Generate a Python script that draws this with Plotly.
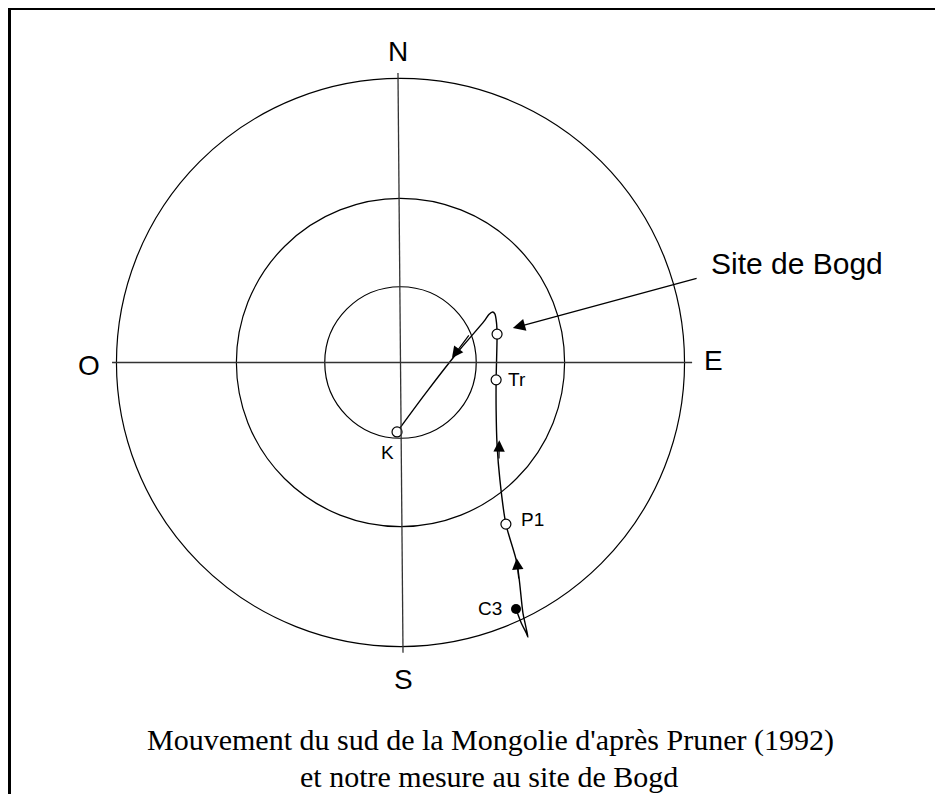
import plotly.graph_objects as go

# ---- data (diagram units: outer circle radius = 90) ----
circle_radii = [90, 52, 24]

cardinal_labels = ["N", "S", "E", "O"]
cardinal_x = [-0.8, 1.1, 99.3, -98.7]
cardinal_y = [98.5, -100.6, 0.6, -0.8]

# cross lines (slightly tilted N-S line as in the original)
ns_x = [-0.8, 0.8]
ns_y = [91.7, -92.0]
eo_x = [-91.4, 92.4]
eo_y = [0.0, 0.0]

# pole path (from C3, around the small loop, up to the site, then down to K)
path_x = [36.6, 38.3, 39.8, 40.4, 39.6, 38.8, 36.9, 33.4, 31.5, 30.6, 30.3, 30.3,
          30.6, 30.4, 29.9, 29.2, 28.0, 26.5, 17.9, 8.0, -1.1]
path_y = [-78.1, -82.6, -85.6, -87.0, -83.2, -79.4, -63.6, -51.2, -37.2, -26.1, -15.1, -5.5,
          9.0, 12.8, 15.4, 16.0, 15.2, 13.1, 3.0, -9.7, -22.0]

open_names = ["K", "Tr", "P1", "Bogd"]
open_x = [-1.1, 30.3, 33.4, 30.6]
open_y = [-22.0, -5.5, -51.2, 9.0]

filled_names = ["C3"]
filled_x = [36.6]
filled_y = [-78.1]

point_labels = ["K", "Tr", "P1", "C3"]
point_label_x = [-4.1, 36.8, 41.8, 28.5]
point_label_y = [-28.4, -5.5, -49.6, -77.8]

# direction arrows along the path: (tail, tip)
arrow_tail_x = [22.0, 31.2, 37.5]
arrow_tail_y = [9.1, -30.9, -68.9]
arrow_tip_x = [16.3, 31.3, 36.8]
arrow_tip_y = [1.4, -24.6, -62.0]

site_text = "Site de Bogd"
site_text_x = 97.8
site_text_y = 31.5
site_arrow_tail = (94.3, 26.8)
site_arrow_tip = (35.6, 10.9)

title_lines = ["Mouvement du sud de la Mongolie d'après Pruner (1992)",
               "et notre mesure au site de Bogd"]
title_x = [28.4, 28.1]
title_y = [-119.7, -131.2]

# ---- layout geometry (page is offset 8px by the browser body margin) ----
W, H = 935, 786
PX = 3.156             # pixels per unit
CX, CY = 392.5, 354.5  # centre in figure pixels

x_range = [-CX / PX, (W - CX) / PX]
y_range = [-(H - CY) / PX, CY / PX]

fig = go.Figure()

shapes = []
for r in circle_radii:
    shapes.append(dict(type="circle", xref="x", yref="y", x0=-r, x1=r, y0=-r, y1=r,
                       line=dict(color="black", width=1.2)))
shapes.append(dict(type="line", xref="x", yref="y", x0=ns_x[0], y0=ns_y[0], x1=ns_x[1], y1=ns_y[1],
                   line=dict(color="#333", width=1.3)))
shapes.append(dict(type="line", xref="x", yref="y", x0=eo_x[0], y0=eo_y[0], x1=eo_x[1], y1=eo_y[1],
                   line=dict(color="#333", width=1.3)))
# frame (top and left border)
shapes.append(dict(type="line", xref="paper", yref="paper", x0=0, x1=1.0, y0=1 - 0.5 / H, y1=1 - 0.5 / H,
                   line=dict(color="black", width=3)))
shapes.append(dict(type="line", xref="paper", yref="paper", x0=1.5 / W, x1=1.5 / W, y0=1, y1=0,
                   line=dict(color="black", width=3)))

fig.add_trace(go.Scatter(x=path_x, y=path_y, mode="lines",
                         line=dict(color="black", width=1.4, shape="spline", smoothing=0.8),
                         hoverinfo="skip", showlegend=False))
fig.add_trace(go.Scatter(x=open_x, y=open_y, mode="markers", text=open_names,
                         marker=dict(symbol="circle", size=10, color="white",
                                     line=dict(color="black", width=1.2)),
                         showlegend=False))
fig.add_trace(go.Scatter(x=filled_x, y=filled_y, mode="markers", text=filled_names,
                         marker=dict(symbol="circle", size=10, color="black"),
                         showlegend=False))

annotations = []
for lab, x, y in zip(cardinal_labels, cardinal_x, cardinal_y):
    annotations.append(dict(x=x, y=y, xref="x", yref="y", text=lab, showarrow=False,
                            font=dict(family="Liberation Sans, Arial", size=28, color="black")))
for lab, x, y in zip(point_labels, point_label_x, point_label_y):
    annotations.append(dict(x=x, y=y, xref="x", yref="y", text=lab, showarrow=False,
                            font=dict(family="Liberation Sans, Arial", size=19, color="black")))
for tx, ty, hx, hy in zip(arrow_tail_x, arrow_tail_y, arrow_tip_x, arrow_tip_y):
    annotations.append(dict(x=hx, y=hy, ax=tx, ay=ty, xref="x", yref="y", axref="x", ayref="y",
                            text="", showarrow=True, arrowhead=2, arrowsize=1.9, arrowwidth=1.2,
                            arrowcolor="black", standoff=0, startstandoff=0))
annotations.append(dict(x=site_arrow_tip[0], y=site_arrow_tip[1], ax=site_arrow_tail[0], ay=site_arrow_tail[1],
                        xref="x", yref="y", axref="x", ayref="y", text="", showarrow=True,
                        arrowhead=2, arrowsize=1.9, arrowwidth=1.3, arrowcolor="black",
                        standoff=0, startstandoff=0))
annotations.append(dict(x=site_text_x, y=site_text_y, xref="x", yref="y", text=site_text, showarrow=False,
                        xanchor="left", font=dict(family="Liberation Sans, Arial", size=30, color="black")))
for t, x, y in zip(title_lines, title_x, title_y):
    annotations.append(dict(x=x, y=y, xref="x", yref="y", text=t, showarrow=False,
                            font=dict(family="Liberation Serif, Times New Roman", size=30, color="black")))

fig.update_layout(
    width=W, height=H,
    margin=dict(l=0, r=0, t=0, b=0),
    paper_bgcolor="white", plot_bgcolor="white",
    shapes=shapes, annotations=annotations,
    xaxis=dict(range=x_range, visible=False, showgrid=False, zeroline=False, fixedrange=True),
    yaxis=dict(range=y_range, visible=False, showgrid=False, zeroline=False, fixedrange=True),
    showlegend=False,
)

fig.write_html("out.html")
